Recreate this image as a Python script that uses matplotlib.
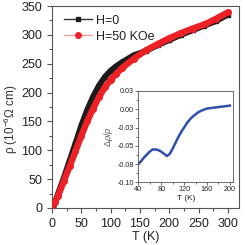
import matplotlib
matplotlib.use("Agg")
import matplotlib.pyplot as plt
from matplotlib.lines import Line2D
from matplotlib.ticker import MultipleLocator, FixedLocator, FixedFormatter

plt.rcParams['font.family'] = ['Liberation Sans', 'DejaVu Sans']
plt.rcParams['mathtext.fontset'] = 'custom'
plt.rcParams['mathtext.rm'] = 'Liberation Sans'
plt.rcParams['mathtext.it'] = 'Liberation Sans:italic'

# Main data: resistivity vs temperature
T_h0 = [2, 5, 10, 20, 30, 40, 50, 60, 70, 80, 90, 100, 110, 120, 140, 160, 180, 200, 220, 240, 260, 280, 300]
rho_h0 = [0, 10, 24, 52, 82, 112, 143, 170, 193, 212, 227, 238, 246, 253, 265, 272, 282, 291, 300, 308, 316, 324, 335]

T_h50 = [0, 5, 10, 20, 30, 40, 50, 60, 70, 80, 90, 100, 110, 120, 140, 160, 180, 200, 220, 240, 260, 280, 300]
rho_h50 = [6, 10, 20, 46, 72, 98, 125, 150, 172, 192, 209, 222, 233, 243, 259, 273, 284, 294, 303, 311, 318, 328, 339]

# Inset data: magnetoresistance
T_mr = [40, 45, 50, 55, 60, 65, 70, 75, 80, 85, 90, 95, 100, 105, 110, 115, 120, 125, 130,
        135, 140, 145, 150, 160, 170, 180, 190, 200]
mr = [-0.075, -0.071, -0.066, -0.062, -0.058, -0.055, -0.055, -0.056, -0.058, -0.061, -0.064,
      -0.061, -0.054, -0.046, -0.038, -0.031, -0.025, -0.019, -0.014, -0.010, -0.007, -0.004,
      -0.002, 0.001, 0.002, 0.003, 0.004, 0.005]

labels = ['H=0', 'H=50 KOe']
inset_yticks = [0.025, 0.0, -0.025, -0.05, -0.075, -0.1]
inset_yticklabels = ['0.03', '0.00', '-0.03', '-0.05', '-0.08', '-0.10']

black = '#1c1c1c'
red = '#ec2126'
blue = '#2f4fae'
spine_c = '#555555'

fig = plt.figure(figsize=(2.45, 2.45), dpi=100)
ax = fig.add_axes([52/245, 1-208/245, (239-52)/245, (208-6)/245])

ax.plot(T_h0, rho_h0, '-', color=black, lw=4.2, solid_capstyle='round', zorder=2)
ax.plot(T_h0, rho_h0, 's', color=black, ms=3.5, zorder=2)
ax.plot(T_h50, rho_h50, '-', color=red, lw=4.6, solid_capstyle='round', zorder=3)
ax.plot(T_h50, rho_h50, 'o', color=red, ms=4, zorder=3)

ax.set_xlim(0, 319)
ax.set_ylim(0, 350)
ax.xaxis.set_major_locator(MultipleLocator(50))
ax.xaxis.set_minor_locator(MultipleLocator(25))
ax.yaxis.set_major_locator(MultipleLocator(50))
ax.yaxis.set_minor_locator(MultipleLocator(25))
ax.tick_params(which='both', direction='out', labelsize=9, colors=spine_c, labelcolor='#222222')
ax.tick_params(which='major', length=3.5, width=0.8)
ax.tick_params(which='minor', length=2, width=0.8)
for s in ax.spines.values():
    s.set_color(spine_c)
    s.set_linewidth(0.8)

ax.set_xlabel('T (K)', fontsize=9, color='#222222', labelpad=1)
ax.set_ylabel('ρ (10$^{-6}$Ω cm)', fontsize=8.5, color='#333333')
ax.yaxis.set_label_coords(-0.17, 0.44)

handles = [
    Line2D([], [], color='#333333', lw=1, marker='s', ms=3.5, mfc=black, mec=black),
    Line2D([], [], color='#f49a9a', lw=1, marker='o', ms=4, mfc=red, mec=red),
]
leg = ax.legend(handles, labels, loc='upper left', frameon=False, fontsize=9,
                handlelength=2.2, handletextpad=0.3, borderaxespad=0.3,
                labelspacing=0.3, bbox_to_anchor=(0.02, 1.0))
for t in leg.get_texts():
    t.set_color('#222222')

# Inset
ins = fig.add_axes([138.3/245, 1-182.3/245, (233.3-138.3)/245, (182.3-91)/245])
ins.plot(T_mr, mr, '-', color=blue, lw=1.8)
ins.set_xlim(40, 206)
ins.set_ylim(-0.1, 0.025)
ins.xaxis.set_major_locator(FixedLocator([40, 80, 120, 160, 200]))
ins.xaxis.set_minor_locator(MultipleLocator(20))
ins.yaxis.set_major_locator(FixedLocator(inset_yticks))
ins.yaxis.set_major_formatter(FixedFormatter(inset_yticklabels))
ins.yaxis.set_minor_locator(MultipleLocator(0.0125))
ins.tick_params(which='both', direction='out', labelsize=5.2, colors=spine_c, labelcolor='#222222', pad=1)
ins.tick_params(which='major', length=2, width=0.6)
ins.tick_params(which='minor', length=1.2, width=0.6)
for s in ins.spines.values():
    s.set_color(spine_c)
    s.set_linewidth(0.6)
ins.set_xlabel('T (K)', fontsize=6, color='#222222', labelpad=1)
ins.set_ylabel(r'$\Delta\rho/\rho$', fontsize=6.5, color='#555555', labelpad=2)

fig.savefig('out.png', dpi=100)
